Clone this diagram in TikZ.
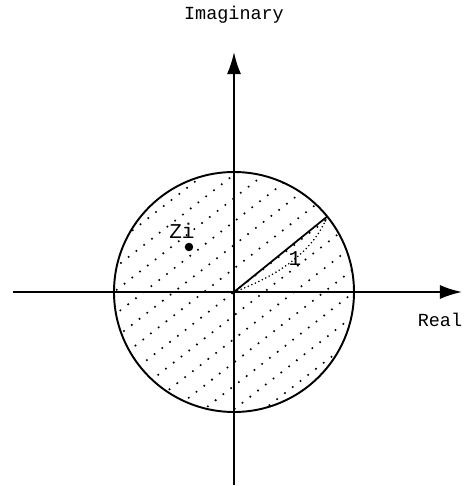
\documentclass[tikz,border=0pt]{standalone}
\usepackage{fontspec}
\setmonofont{Liberation Mono}
\usetikzlibrary{arrows.meta}

\tikzset{
axe/.style={line width=1.1pt,-{Latex[length=0.44cm,width=0.28cm]}},
hachure/.style={line width=1.3pt,line cap=round,dash pattern=on 0pt off 5.6pt},
etiquette/.style={font=\ttfamily\fontsize{10.5}{12}\selectfont}
}

\begin{document}
\begin{tikzpicture}

\useasboundingbox
(-4.68,-3.88)
rectangle
(4.64,5.84);

% Points
\coordinate (O) at (0,0);
\coordinate (Ouest) at (-4.42,0);
\coordinate (Est) at (4.56,0);
\coordinate (Sud) at (0,-3.86);
\coordinate (Nord) at (0,4.8);
\coordinate (P) at (39:2.4);

% Hachures
\begin{scope}
\clip (O) circle (2.4);
\foreach \i in {-7,...,7}
\draw[hachure,rotate=38]
(-3,\i*0.37)
--
(3,\i*0.37);
\end{scope}

% Disque
\draw[line width=1.1pt]
(O)
circle (2.4);

% Axes
\draw[axe]
(Ouest)
--
(Est);

\draw[axe]
(Sud)
--
(Nord);

\node[etiquette] (imag) at (0,5.54)
{Imaginary};

\node[etiquette] (reel) at (4.12,-0.56)
{Real};

% Rayon
\draw[line width=1pt]
(O)
--
(P);

\draw[hachure,line width=1pt,dash pattern=on 0pt off 2.2pt]
(O)
.. controls (0.99,0.37) and (1.6,0.86) ..
(P);

\node[etiquette,font=\ttfamily\fontsize{12}{14}\selectfont] (un) at (1.22,0.66)
{1};

% Point Zi
\fill
(-0.9,0.9)
circle (0.085);

\node[etiquette,font=\ttfamily\fontsize{12}{14}\selectfont] (zi) at (-1.04,1.22)
{Zi};

\end{tikzpicture}
\end{document}
